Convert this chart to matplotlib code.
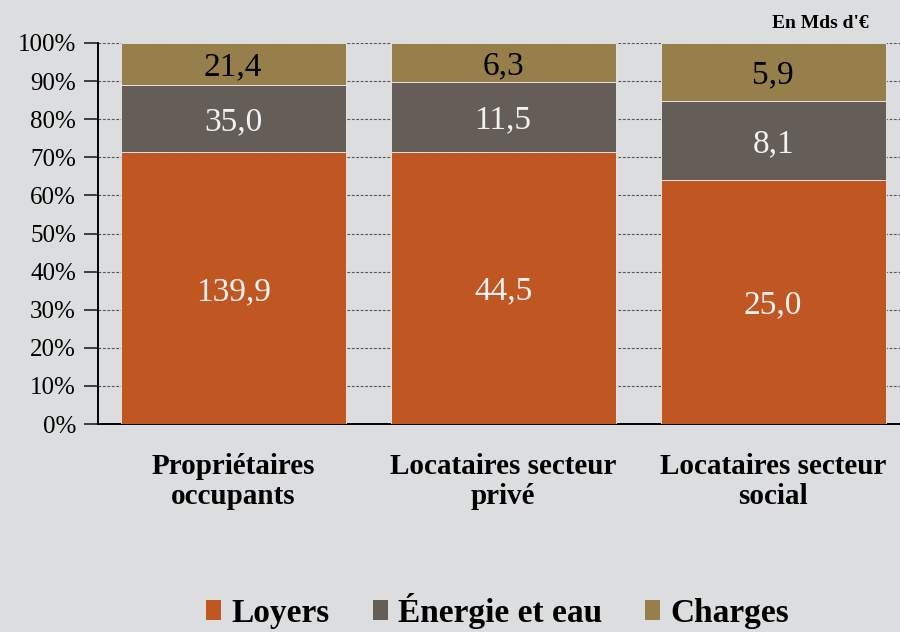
import numpy as np
import matplotlib
matplotlib.use('Agg')
import matplotlib.pyplot as plt
from matplotlib.patches import Patch

plt.rcParams['font.family'] = ['Liberation Serif', 'DejaVu Serif']

# Data (Mds d'€)
categories = ['Propriétaires\noccupants', 'Locataires secteur\nprivé', 'Locataires secteur\nsocial']
series_names = ['Loyers', 'Énergie et eau', 'Charges']
loyers = [139.9, 44.5, 25.0]
energie = [35.0, 11.5, 8.1]
charges = [21.4, 6.3, 5.9]
label_txt = [['139,9', '44,5', '25,0'], ['35,0', '11,5', '8,1'], ['21,4', '6,3', '5,9']]

colors = ['#c05722', '#655e58', '#967f4a']
text_colors = ['#f2f2f2', '#f2f2f2', '#000000']
bg = '#dcdddf'

values = np.array([loyers, energie, charges])
pct = values / values.sum(axis=0) * 100

fig = plt.figure(figsize=(9, 6.32), dpi=100)
fig.patch.set_facecolor(bg)
ax = fig.add_axes([0.109, 0.329, 0.891, 0.603])
ax.set_facecolor(bg)

x = np.arange(len(categories))
bottom = np.zeros(len(categories))
for i in range(3):
    ax.bar(x, pct[i], 0.833, bottom=bottom, color=colors[i],
           edgecolor='#ececec', linewidth=0.6, zorder=3)
    for j in range(len(categories)):
        ax.text(x[j], bottom[j] + pct[i][j] / 2, label_txt[i][j],
                ha='center', va='center_baseline', fontsize=24,
                color=text_colors[i], zorder=4)
    bottom += pct[i]

ax.set_xlim(-0.5, 2.47)
ax.set_ylim(0, 100)
ax.set_yticks(np.arange(0, 101, 10))
ax.set_yticklabels(['%d%%' % v for v in range(0, 101, 10)], fontsize=18)
ax.yaxis.grid(True, linestyle=(0, (2.5, 1.5)), color='#555555', linewidth=0.8, zorder=0)
ax.set_axisbelow(True)

ax.set_xticks(x)
ax.set_xticklabels(categories, fontsize=21, fontweight='bold', linespacing=1.15)
ax.tick_params(axis='x', length=0, pad=21)
ax.tick_params(axis='y', length=10, width=1.2, pad=6, color='#222222')

for s in ['top', 'right']:
    ax.spines[s].set_visible(False)
ax.spines['left'].set_linewidth(1.4)
ax.spines['bottom'].set_linewidth(1.4)

fig.text(0.965, 0.963, "En Mds d'€", ha='right', va='center',
         fontsize=14, fontweight='bold')

handles = [Patch(facecolor=c, edgecolor='none') for c in colors]
fig.legend(handles, series_names, loc='center', bbox_to_anchor=(0.553, 0.034),
           ncol=3, frameon=False, prop={'size': 24, 'weight': 'bold'},
           handlelength=0.45, handleheight=0.55, handletextpad=0.3,
           columnspacing=1.3)

fig.savefig('out.png', dpi=100, facecolor=bg)
